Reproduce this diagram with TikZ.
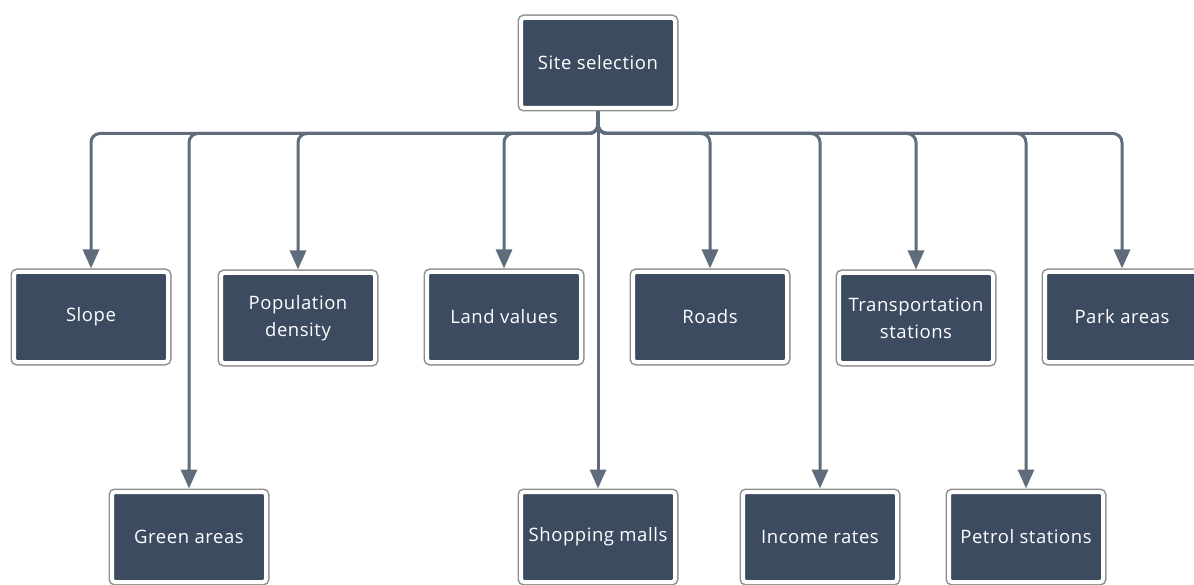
\documentclass[tikz,border=0pt]{standalone}
\usepackage{fontspec}
\setmainfont{Open Sans}
\newfontfamily\boxfont[LetterSpace=3]{Open Sans}
\usetikzlibrary{arrows.meta}
\definecolor{boxfill}{HTML}{3C4B60}
\definecolor{linec}{HTML}{5F6C7C}
\definecolor{rimc}{HTML}{8E8E8E}
\begin{document}
\begin{tikzpicture}[x=1pt,y=-1pt,
  cbox/.style={minimum width=154pt,minimum height=90pt,inner sep=1pt,
    rounded corners=3pt,fill=boxfill,draw=white,line width=4pt,
    preaction={draw=rimc,line width=7pt},
    text=white,font=\boxfont\fontsize{18.5pt}{27pt}\selectfont,align=center,outer sep=3.5pt},
  conn/.style={draw=linec,line width=3pt,rounded corners=9pt,
    -{Triangle[length=19pt,width=16pt]}}]
\clip (0,0) rectangle (1194,585);
\fill[white] (0,0) rectangle (1194,585);
\node[cbox] (site) at (598,63) {Site selection};
\node[cbox] (slope) at (91,317) {Slope};
\node[cbox] (pop) at (298,318) {Population\\density};
\node[cbox] (land) at (504,317) {Land values};
\node[cbox] (roads) at (710,317) {Roads};
\node[cbox] (trans) at (916,318) {Transportation\\stations};
\node[cbox] (park) at (1122,317) {Park areas};
\node[cbox] (green) at (189,537) {Green areas};
\node[cbox] (shop) at (598,537) {Shopping malls};
\node[cbox] (income) at (820,537) {Income rates};
\node[cbox] (petrol) at (1026,537) {Petrol stations};
\foreach \t in {slope,pop,land,roads,trans,park,green,income,petrol}{
  \draw[conn] (site.south) -- ++(0,22) -| (\t.north);
}
\draw[conn] (site.south) -- (shop.north);
\end{tikzpicture}
\end{document}
